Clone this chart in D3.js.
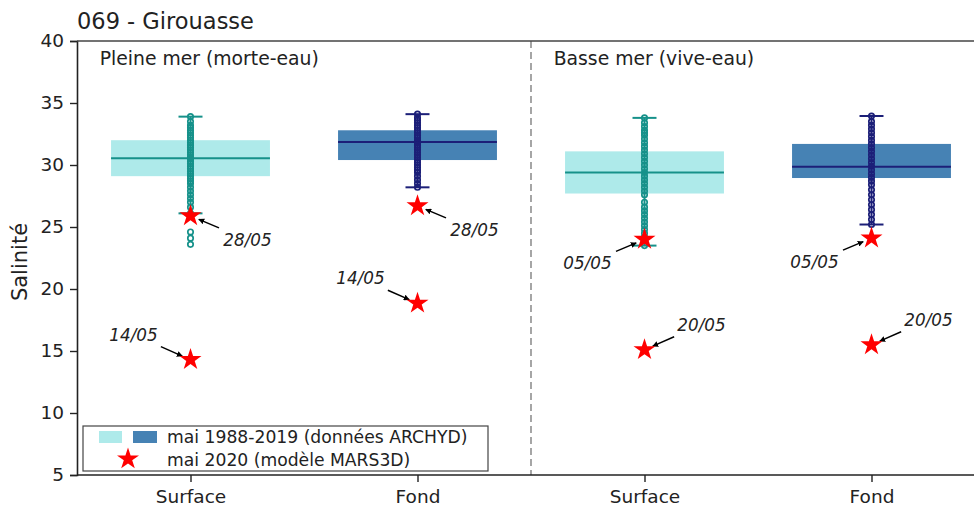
<!DOCTYPE html>
<html>
<head>
<meta charset="utf-8">
<script src="https://cdn.jsdelivr.net/npm/d3@7"></script>
<style>
    body { margin: 0; background: white; }
    text { font-family: "DejaVu Sans", sans-serif; }
</style>
</head>
<body>
<div id="chart"></div>
<script>
// categories (pleine mer x2, basse mer x2)
let categories = ["Surface", "Fond", "Surface", "Fond"];
let panels = ["Pleine mer (morte-eau)", "Basse mer (vive-eau)"];
let yTicks = [5, 10, 15, 20, 25, 30, 35, 40];

// box stats, mai 1988-2019 (ARCHYD)
let boxQ1 = [29.1, 30.4, 27.7, 28.95];
let boxMedian = [30.55, 31.85, 29.4, 29.85];
let boxQ3 = [32.0, 32.8, 31.1, 31.7];
let whiskLow = [26.1, 28.2, 23.5, 25.2];
let whiskHigh = [33.9, 34.1, 33.8, 33.95];

// individual observations
let obsPMSurface = [33.9, 33.5, 33.2, 33.0, 32.8, 32.6, 32.4, 32.2, 32.0, 31.8, 31.6, 31.4, 31.2, 31.0, 30.8, 30.6,
    30.5, 30.3, 30.1, 29.9, 29.7, 29.5, 29.3, 29.1, 28.9, 28.7, 28.5, 28.2, 27.9, 27.6, 27.3, 27.0, 26.6, 26.1,
    24.6, 24.1, 23.6];
let obsPMFond = [34.1, 33.8, 33.6, 33.4, 33.2, 33.0, 32.8, 32.6, 32.4, 32.2, 32.0, 31.9, 31.8, 31.6, 31.4, 31.2,
    31.0, 30.8, 30.6, 30.4, 30.2, 30.0, 29.8, 29.6, 29.4, 29.1, 28.8, 28.5, 28.2];
let obsBMSurface = [33.8, 33.4, 33.1, 32.8, 32.6, 32.4, 32.1, 31.8, 31.5, 31.2, 30.9, 30.6, 30.3, 30.0, 29.7, 29.4,
    29.1, 28.8, 28.5, 28.2, 27.9, 27.6, 27.0, 26.6, 26.3, 26.0, 25.7, 25.4, 25.1, 24.8, 24.5, 24.2, 23.9, 23.5];
let obsBMFond = [33.95, 33.5, 33.2, 32.9, 32.6, 32.3, 32.0, 31.7, 31.4, 31.1, 30.8, 30.5, 30.2, 29.9, 29.6, 29.3,
    29.0, 28.7, 28.4, 28.0, 27.6, 27.2, 26.8, 26.4, 26.0, 25.6, 25.2];
let observations = [obsPMSurface, obsPMFond, obsBMSurface, obsBMFond];

// mai 2020 MARS3D
let modelIndex = [0, 0, 1, 1, 2, 2, 3, 3];
let modelValues = [25.9, 14.3, 26.7, 18.85, 24.0, 15.1, 24.1, 15.5];
let modelDates = ["28/05", "14/05", "28/05", "14/05", "05/05", "20/05", "05/05", "20/05"];

let legendLabels = ["mai 1988-2019 (données ARCHYD)", "mai 2020 (modèle MARS3D)"];

const LIGHT_FILL = "#aeeaea", LIGHT_LINE = "#16918a";
const DARK_FILL = "#4682b4", DARK_LINE = "#1c1f78";
const STAR_COLOR = "#ff0000";

let width = 974, height = 512;
let plotLeft = 77, plotTop = 41, plotBottom = 475;

let svg = d3.select("#chart").append("svg")
    .attr("width", width)
    .attr("height", height);

let x = d3.scaleLinear().domain([-0.5, 3.5]).range([plotLeft, 985]);
let y = d3.scaleLinear().domain([5, 40]).range([plotBottom, plotTop]);
let boxW = x(0.35) - x(0);

function fillOf(i) { return i % 2 === 0 ? LIGHT_FILL : DARK_FILL; }
function lineOf(i) { return i % 2 === 0 ? LIGHT_LINE : DARK_LINE; }

svg.append("defs").append("marker")
    .attr("id", "arrowHead")
    .attr("viewBox", "0 0 10 10")
    .attr("refX", 9).attr("refY", 5)
    .attr("markerWidth", 4).attr("markerHeight", 4)
    .attr("orient", "auto")
    .append("path")
    .attr("d", "M0,0 L10,5 L0,10 z")
    .style("fill", "black");

// separator pleine / basse mer
svg.append("line")
    .attr("x1", x(1.5)).attr("x2", x(1.5))
    .attr("y1", y(40)).attr("y2", y(5))
    .style("stroke", "#808080")
    .style("stroke-width", 1.4)
    .style("stroke-dasharray", "7,4");

// boxes
let boxes = svg.append("g");
categories.forEach(function (c, i) {
    let g = boxes.append("g");
    g.append("rect")
        .attr("x", x(i) - boxW).attr("y", y(boxQ3[i]))
        .attr("width", boxW * 2).attr("height", y(boxQ1[i]) - y(boxQ3[i]))
        .style("fill", fillOf(i));
    g.append("line")
        .attr("x1", x(i) - boxW).attr("x2", x(i) + boxW)
        .attr("y1", y(boxMedian[i])).attr("y2", y(boxMedian[i]))
        .style("stroke", lineOf(i)).style("stroke-width", 2);
    g.append("line")
        .attr("x1", x(i)).attr("x2", x(i))
        .attr("y1", y(whiskHigh[i])).attr("y2", y(whiskLow[i]))
        .style("stroke", lineOf(i)).style("stroke-width", 2);
    [whiskLow[i], whiskHigh[i]].forEach(function (w) {
        g.append("line")
            .attr("x1", x(i) - 12).attr("x2", x(i) + 12)
            .attr("y1", y(w)).attr("y2", y(w))
            .style("stroke", lineOf(i)).style("stroke-width", 2);
    });
    g.selectAll("circle.obs").data(observations[i]).enter().append("circle")
        .attr("class", "obs")
        .attr("cx", x(i)).attr("cy", d => y(d))
        .attr("r", 2.7)
        .style("fill", "none")
        .style("stroke", lineOf(i))
        .style("stroke-width", 1.7);
});

// stars + annotations
let star = d3.symbol().type(d3.symbolStar).size(150);
let annots = svg.append("g");
modelValues.forEach(function (v, k) {
    let cx = x(modelIndex[k]), cy = y(v);
    let isLate = modelDates[k] === "28/05" || modelDates[k] === "20/05";
    // text offset: right for 28/05 & 20/05, left otherwise; below for upper stars
    let dx = (isLate ? 57 : -57), dy = (v > 22 ? 24 : -25);
    let tx = cx + dx, ty = cy + dy;

    // arrow from text bbox edge to star
    let vx = cx - tx, vy = cy - ty;
    let t = Math.min(29 / Math.abs(vx), 12 / Math.abs(vy));
    let len = Math.sqrt(vx * vx + vy * vy);
    annots.append("line")
        .attr("x1", tx + vx * t).attr("y1", ty + vy * t)
        .attr("x2", cx - vx / len * 9).attr("y2", cy - vy / len * 9)
        .style("stroke", "black")
        .style("stroke-width", 1.5)
        .attr("marker-end", "url(#arrowHead)");

    annots.append("text")
        .attr("x", tx).attr("y", ty)
        .attr("text-anchor", "middle")
        .attr("dy", ".35em")
        .attr("font-size", 16.8)
        .attr("font-style", "italic")
        .style("fill", "#222")
        .text(modelDates[k]);

    annots.append("path")
        .attr("transform", "translate(" + cx + "," + cy + ")")
        .attr("d", star)
        .style("fill", STAR_COLOR);
});

// axes
let yAxis = svg.append("g")
    .attr("transform", "translate(" + plotLeft + ",0)")
    .call(d3.axisLeft(y).tickValues(yTicks).tickSize(7).tickPadding(6));
let xAxis = svg.append("g")
    .attr("transform", "translate(0," + plotBottom + ")")
    .call(d3.axisBottom(x).tickValues([0, 1, 2, 3]).tickFormat(i => categories[i]).tickSize(7).tickPadding(8));
[yAxis, xAxis].forEach(function (a) {
    a.select(".domain").style("stroke", "#222").style("stroke-width", 1.6);
    a.selectAll(".tick line").style("stroke", "#222").style("stroke-width", 1.4);
    a.selectAll(".tick text").attr("font-size", 18.5)
        .style("font-family", "DejaVu Sans").style("fill", "#222");
});
xAxis.select(".domain").attr("d", "M" + plotLeft + ",0H" + width);

svg.append("line")
    .attr("x1", plotLeft).attr("x2", width)
    .attr("y1", plotTop).attr("y2", plotTop)
    .style("stroke", "#444").style("stroke-width", 1.6);

// titles
svg.append("text")
    .attr("x", plotLeft).attr("y", 29)
    .attr("font-size", 22.5)
    .style("fill", "#222")
    .text("069 - Girouasse");

svg.append("text")
    .attr("transform", "translate(27," + ((plotTop + plotBottom) / 2 + 4) + ") rotate(-90)")
    .attr("text-anchor", "middle")
    .attr("font-size", 21)
    .style("fill", "#222")
    .text("Salinité");

panels.forEach(function (p, i) {
    svg.append("text")
        .attr("x", x(-0.4 + i * 2))
        .attr("y", 58)
        .attr("dy", ".35em")
        .attr("font-size", 18.8)
        .style("fill", "#222")
        .text(p);
});

// legend
{
    let lg = svg.append("g").attr("transform", "translate(83,426)");
    lg.append("rect")
        .attr("width", 405).attr("height", 45)
        .style("fill", "white").style("fill-opacity", 0.85)
        .style("stroke", "#444").style("stroke-width", 1.2);
    lg.append("rect").attr("x", 16).attr("y", 5).attr("width", 23).attr("height", 12).style("fill", LIGHT_FILL);
    lg.append("rect").attr("x", 50).attr("y", 5).attr("width", 24).attr("height", 12).style("fill", DARK_FILL);
    lg.append("path")
        .attr("transform", "translate(45,33)")
        .attr("d", star)
        .style("fill", STAR_COLOR);
    legendLabels.forEach(function (l, i) {
        lg.append("text")
            .attr("x", 84).attr("y", 11 + i * 23)
            .attr("dy", ".35em")
            .attr("font-size", 17.2)
            .style("fill", "#222")
            .text(l);
    });
}
</script>
</body>
</html>
